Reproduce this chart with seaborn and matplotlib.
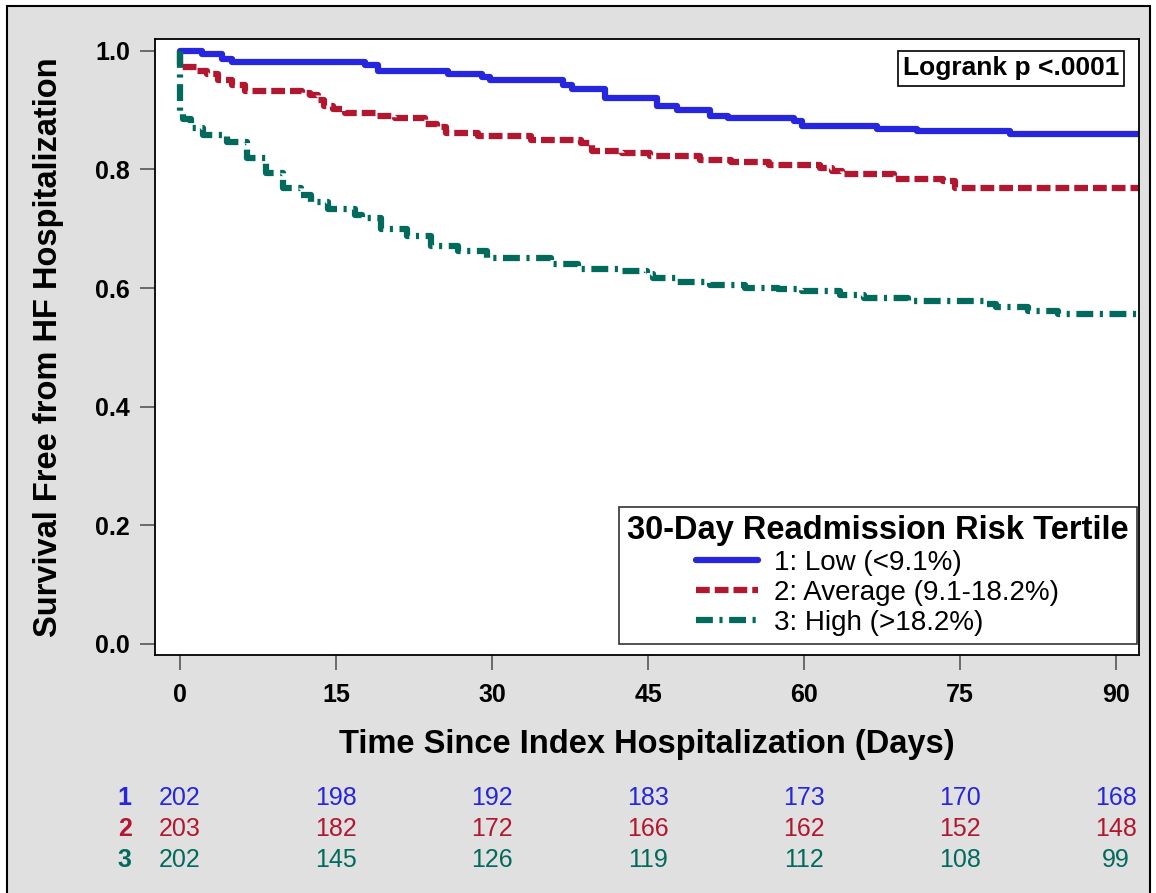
import numpy as np
import pandas as pd
import matplotlib
matplotlib.use("Agg")
import matplotlib.pyplot as plt
import matplotlib.transforms as mtransforms
from matplotlib.patches import Rectangle
from matplotlib.lines import Line2D
import seaborn as sns

# ---- data -------------------------------------------------------------
groups = ["1: Low (<9.1%)", "2: Average (9.1-18.2%)", "3: High (>18.2%)"]
group_ids = ["1", "2", "3"]
colors = ["#2626DE", "#B3172F", "#006B5D"]

# Kaplan-Meier step times (days) and survival just after each step
low_days = [2.1, 4.0, 5.0, 17.8, 19.0, 25.8, 29.0, 29.8, 36.8, 37.7, 40.9,
            45.9, 47.8, 51.0, 52.7, 59.0, 59.8, 67.0, 70.9, 79.8]
low_surv = [0.995, 0.987, 0.981, 0.976, 0.966, 0.961, 0.956, 0.951, 0.943, 0.935, 0.921,
            0.907, 0.900, 0.890, 0.886, 0.881, 0.874, 0.869, 0.865, 0.860]

avg_days = [0.0, 1.6, 2.6, 3.7, 5.0, 6.3, 11.7, 12.5, 13.3, 13.8, 14.7, 15.9,
            18.9, 20.7, 23.6, 24.7, 25.6, 28.7, 33.7, 38.6, 39.6, 42.5, 45.2,
            50.0, 53.0, 56.6, 61.5, 62.7, 63.6, 68.6, 73.4, 74.5]
avg_surv = [0.972, 0.966, 0.961, 0.951, 0.943, 0.933, 0.929, 0.925, 0.917, 0.907, 0.902, 0.896,
            0.891, 0.886, 0.877, 0.872, 0.862, 0.857, 0.850, 0.844, 0.831, 0.827, 0.822,
            0.816, 0.812, 0.807, 0.802, 0.798, 0.792, 0.784, 0.780, 0.768]

high_days = [0.0, 0.3, 1.1, 2.2, 4.5, 6.4, 8.3, 9.9, 11.6, 12.6, 14.2, 16.8, 17.5,
             19.3, 21.8, 24.1, 26.7, 29.5, 35.7, 38.3, 42.5, 44.9, 45.5, 47.8,
             51.0, 54.3, 57.5, 59.8, 63.5, 65.8, 70.0, 77.5, 78.5, 81.5, 84.4]
high_surv = [0.898, 0.885, 0.870, 0.858, 0.847, 0.820, 0.794, 0.769, 0.757, 0.745, 0.733, 0.723, 0.718,
             0.700, 0.688, 0.671, 0.663, 0.650, 0.640, 0.632, 0.628, 0.623, 0.617, 0.611,
             0.605, 0.601, 0.599, 0.595, 0.589, 0.583, 0.579, 0.573, 0.568, 0.562, 0.557]

follow_up_end = 93

risk_times = [0, 15, 30, 45, 60, 75, 90]
at_risk_low = [202, 198, 192, 183, 173, 170, 168]
at_risk_avg = [203, 182, 172, 166, 162, 152, 148]
at_risk_high = [202, 145, 126, 119, 112, 108, 99]

x_ticks = [0, 15, 30, 45, 60, 75, 90]
y_ticks = [0.0, 0.2, 0.4, 0.6, 0.8, 1.0]

legend_title = "30-Day Readmission Risk Tertile"
logrank_text = "Logrank p <.0001"
x_label = "Time Since Index Hospitalization (Days)"
y_label = "Survival Free from HF Hospitalization"

# ---- long-form table of step curves -----------------------------------
frames = []
for name, days, surv in zip(groups, [low_days, avg_days, high_days],
                            [low_surv, avg_surv, high_surv]):
    d = [0.0] + list(days) + [follow_up_end]
    s = [1.0] + list(surv) + [surv[-1]]
    frames.append(pd.DataFrame({"day": d, "surv": s, "group": name}))
df = pd.concat(frames, ignore_index=True)

# ---- style ------------------------------------------------------------
sns.set_style("white")
plt.rcParams["font.family"] = ["Liberation Sans", "DejaVu Sans"]
plt.rcParams["text.color"] = "black"
plt.rcParams["axes.labelcolor"] = "black"

fig = plt.figure(figsize=(11.56, 8.93), dpi=100, facecolor="white")
fig.patches.append(Rectangle((7 / 1156, -0.05), (1150 - 7) / 1156, 1.05 - 6 / 893,
                             transform=fig.transFigure, facecolor="#E0E0E0",
                             edgecolor="black", linewidth=1.5, zorder=-10))
ax = fig.add_axes([155 / 1156, 1 - 655 / 893, (1139 - 155) / 1156, (655 - 39) / 893])
ax.set_facecolor("white")

lw = 4.5
dash_patterns = ["", (2.2, 0.8), (2.7, 1.05, 0.5, 1.05)]
palette = dict(zip(groups, colors))
dashes = dict(zip(groups, dash_patterns))

sns.lineplot(data=df, x="day", y="surv", hue="group", style="group",
             hue_order=groups, style_order=groups, palette=palette, dashes=dashes,
             estimator=None, sort=False, drawstyle="steps-post", linewidth=lw,
             legend=False, ax=ax)

ax.set_xlim(-2.4, 92.2)
ax.set_ylim(-0.0186, 1.02)
ax.set_xticks(x_ticks)
ax.set_yticks(y_ticks)
ax.set_xticklabels([str(t) for t in x_ticks])
ax.set_yticklabels([f"{t:.1f}" for t in y_ticks])
ax.tick_params(axis="both", direction="out", length=11, width=1.3, color="#606060",
               labelcolor="black", labelsize=18, bottom=True, left=True)
ax.tick_params(axis="x", pad=9)
ax.tick_params(axis="y", pad=7)
for lab in ax.get_xticklabels() + ax.get_yticklabels():
    lab.set_fontweight("bold")
for sp in ax.spines.values():
    sp.set_color("black")
    sp.set_linewidth(1.3)
    sp.set_visible(True)

ax.set_xlabel(x_label, fontsize=23.5, fontweight="bold", color="black")
ax.set_ylabel(y_label, fontsize=23.5, fontweight="bold", color="black")
ax.xaxis.set_label_coords(0.5, (655 - 729) / 616)
ax.yaxis.set_label_coords((64 - 155) / 984, 0.5)

# legend
handles = [Line2D([], [], color=c, linewidth=lw,
                  linestyle=("-" if d == "" else (0, d)))
           for c, d in zip(colors, dash_patterns)]
leg = ax.legend(handles, groups, title=legend_title, loc="lower right",
                bbox_to_anchor=(0.998, 0.018), borderaxespad=0, frameon=True,
                fancybox=False, fontsize=20, handlelength=2.2, handletextpad=0.6,
                labelspacing=0.14, borderpad=0.3)
leg.get_title().set_fontweight("bold")
leg.get_title().set_fontsize(23.5)
leg.get_title().set_color("black")
for t in leg.get_texts():
    t.set_color("black")
leg.get_frame().set_edgecolor("black")
leg.get_frame().set_linewidth(1.2)

# log-rank annotation
ax.text((1011 - 155) / 984, (655 - 68.5) / 616, logrank_text, transform=ax.transAxes,
        ha="center", va="center", fontsize=19, fontweight="bold", color="black",
        bbox=dict(boxstyle="square,pad=0.2", facecolor="white", edgecolor="black",
                  linewidth=1.2))

# number-at-risk table under the axis
trans = mtransforms.blended_transform_factory(ax.transData, fig.transFigure)
row_y = [1 - 798 / 893, 1 - 829 / 893, 1 - 860 / 893]
for gid, counts, col, yy in zip(group_ids, [at_risk_low, at_risk_avg, at_risk_high],
                                colors, row_y):
    ax.text(-5.3, yy, gid, transform=trans, ha="center", va="center",
            fontsize=18, fontweight="bold", color=col, clip_on=False)
    for t, n in zip(risk_times, counts):
        ax.text(t, yy, str(n), transform=trans, ha="center", va="center",
                fontsize=18, color=col, clip_on=False)

fig.savefig("out.png", dpi=100, facecolor="white")
